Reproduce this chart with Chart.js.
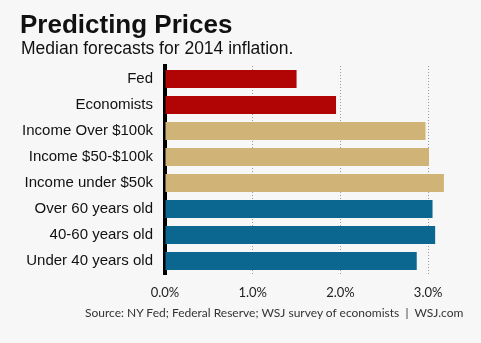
<!DOCTYPE html>
<html>
<head>
<meta charset="utf-8">
<script src="https://cdn.jsdelivr.net/npm/chart.js@4"></script>
<style>
    html, body { margin: 0; padding: 0; background: #f7f7f7; }
    #wrap { position: relative; width: 481px; height: 343px; overflow: hidden; }
    #chart { position: absolute; left: 0; top: 0; }
    .title { position: absolute; left: 20px; top: 9px; font: bold 26px "Liberation Sans", Arial, sans-serif; color: #111; }
    .subtitle { position: absolute; left: 21px; top: 38px; font: 17.5px "Liberation Sans", Arial, sans-serif; color: #111; }
    .source { position: absolute; left: 85px; top: 305px; font: 12px Lato, sans-serif; color: #333; white-space: pre; }
</style>
</head>
<body>
<div id="wrap">
    <canvas id="chart" width="481" height="343"></canvas>
    <div class="title">Predicting Prices</div>
    <div class="subtitle">Median forecasts for 2014 inflation.</div>
    <div class="source">Source: NY Fed; Federal Reserve; WSJ survey of economists  |  WSJ.com</div>
</div>
<script>
const categories = ['Fed', 'Economists', 'Income Over $100k', 'Income $50-$100k', 'Income under $50k',
    'Over 60 years old', '40-60 years old', 'Under 40 years old'];
const forecasts = [1.5, 1.95, 2.97, 3.01, 3.18, 3.05, 3.08, 2.87];
const barColors = ['#b10404', '#b10404', '#d0b477', '#d0b477', '#d0b477', '#0b6690', '#0b6690', '#0b6690'];
const tickValues = [0, 1, 2, 3];

const ctx = document.getElementById('chart').getContext('2d');

new Chart(ctx, {
    type: 'bar',
    data: {
        labels: categories,
        datasets: [{
            data: forecasts,
            backgroundColor: barColors,
            borderWidth: 0,
            barPercentage: 0.7,
            categoryPercentage: 1
        }]
    },
    options: {
        indexAxis: 'y',
        responsive: false,
        animation: false,
        layout: { padding: { top: 66, right: 9, left: 0, bottom: 0 } },
        plugins: {
            legend: { display: false },
            tooltip: { enabled: false }
        },
        scales: {
            x: {
                min: 0,
                max: 3.5,
                afterBuildTicks: scale => { scale.ticks = tickValues.map(v => ({ value: v })); },
                afterFit: scale => { scale.height = 69; },
                ticks: {
                    padding: 11,
                    color: '#222',
                    font: { family: 'Lato', size: 13 },
                    callback: v => v.toFixed(1) + '%'
                },
                grid: {
                    drawTicks: false,
                    color: ctx => ctx.tick && ctx.tick.value === 0 ? 'rgba(0,0,0,0)' : '#9a9a9a',
                    lineWidth: 1
                },
                border: { display: false, dash: [1, 2] }
            },
            y: {
                afterFit: scale => { scale.width = 165; },
                ticks: {
                    padding: 12,
                    color: '#111',
                    font: { family: 'Liberation Sans', size: 15 }
                },
                grid: { drawOnChartArea: false, drawTicks: false },
                border: { display: true, color: '#000', width: 4 }
            }
        }
    }
});
</script>
</body>
</html>
